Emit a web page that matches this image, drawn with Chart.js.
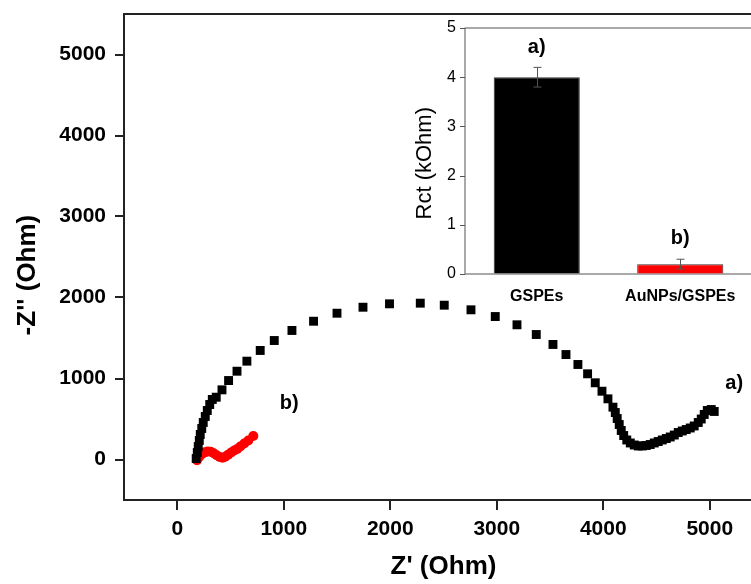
<!DOCTYPE html>
<html>
<head>
<meta charset="utf-8">
<script src="https://cdn.jsdelivr.net/npm/chart.js@4.4.1/dist/chart.umd.min.js"></script>
<style>
  html, body { margin: 0; padding: 0; background: #fff; overflow: hidden; width: 751px; height: 584px; }
  #main { position: absolute; left: 0; top: 0; }
  #inset { position: absolute; left: 400px; top: 10px; }
</style>
</head>
<body>
<canvas id="main" width="770" height="584"></canvas>
<canvas id="inset" width="360" height="300"></canvas>
<script>
const FONT = "'Liberation Sans', Arial, sans-serif";

// Nyquist data, a) GSPEs (black squares)
const gspeZre = [178,188,197,207,216,230,244,263,282,305,329,366,420,482,561,654,779,911,1077,1280,
  1500,1744,1993,2282,2507,2758,2986,3190,3371,3528,3650,3762,3853,3925,3988,4044,4091,4113,4131,4150,
  4169,4192,4221,4254,4291,4329,4366,4404,4441,4479,4516,4554,4592,4629,4667,4704,4742,4779,4817,4854,
  4892,4920,4948,4977,5014,5042];
const gspeZim = [12,86,160,235,309,383,457,531,605,679,741,769,860,975,1090,1214,1346,1469,1593,1707,
  1806,1880,1922,1930,1905,1848,1765,1663,1543,1420,1296,1173,1058,947,843,749,646,580,506,432,
  358,296,241,204,179,167,167,173,185,204,222,241,259,278,302,333,352,370,389,414,
  457,500,556,605,617,593];

// b) AuNPs/GSPEs (red circles)
const aunpZre = [185,205,230,258,286,314,342,370,398,425,450,478,506,535,563,592,629,667,714];
const aunpZim = [-10,30,65,88,98,95,78,52,30,22,35,60,86,111,130,160,198,235,290];

// inset bar chart
const barCategories = ['GSPEs', 'AuNPs/GSPEs'];
const rctValues = [4.0, 0.2];
const rctErrors = [0.2, 0.1];
const barColors = ['#000000', '#ff0000'];

function toPoints(xs, ys) {
  return xs.map((x, i) => ({ x: x, y: ys[i] }));
}

// frame + outward ticks (major and minor)
function makeAxisDecor(color, width, axes) {
  return {
    id: 'axisDecor',
    beforeDatasetsDraw(chart) {
      const ctx = chart.ctx, a = chart.chartArea;
      ctx.save();
      ctx.strokeStyle = color;
      ctx.lineWidth = width;
      ctx.strokeRect(a.left, a.top, a.right - a.left, a.bottom - a.top);
      ctx.beginPath();
      axes.forEach(ax => {
        const s = chart.scales[ax.id];
        s.ticks.forEach(t => {
          const r = t.value / ax.majorStep;
          const major = Math.abs(r - Math.round(r)) < 1e-6;
          const len = major ? ax.majorLen : ax.minorLen;
          const p = Math.round(s.getPixelForValue(t.value)) + (width % 2 ? 0.5 : 0);
          if (s.isHorizontal()) {
            ctx.moveTo(p, a.bottom); ctx.lineTo(p, a.bottom + len);
          } else {
            ctx.moveTo(a.left, p); ctx.lineTo(a.left - len, p);
          }
        });
      });
      ctx.stroke();
      ctx.restore();
    }
  };
}

// text tags like "a)" / "b)" placed in data units
function makeTags(font, items) {
  return {
    id: 'tagLabels',
    afterDatasetsDraw(chart) {
      const ctx = chart.ctx;
      ctx.save();
      ctx.font = font;
      ctx.fillStyle = '#000';
      ctx.textAlign = 'center';
      ctx.textBaseline = 'middle';
      items.forEach(it => {
        ctx.fillText(it.text, chart.scales.x.getPixelForValue(it.x), chart.scales.y.getPixelForValue(it.y));
      });
      ctx.restore();
    }
  };
}

// error bars for the inset
const errorBars = {
  id: 'errorBars',
  afterDatasetsDraw(chart) {
    const ctx = chart.ctx, y = chart.scales.y;
    const meta = chart.getDatasetMeta(0);
    ctx.save();
    ctx.strokeStyle = '#555';
    ctx.lineWidth = 1;
    meta.data.forEach((bar, i) => {
      const x = Math.round(bar.x) + 0.5;
      const top = y.getPixelForValue(rctValues[i] + rctErrors[i]);
      const bot = y.getPixelForValue(rctValues[i] - rctErrors[i]);
      ctx.beginPath();
      ctx.moveTo(x, top); ctx.lineTo(x, bot);
      ctx.moveTo(x - 4, top); ctx.lineTo(x + 4, top);
      ctx.moveTo(x - 4, bot); ctx.lineTo(x + 4, bot);
      ctx.stroke();
    });
    ctx.restore();
  }
};

const hiddenGrid = { display: true, drawOnChartArea: false, drawTicks: true, color: 'rgba(0,0,0,0)' };

new Chart(document.getElementById('main'), {
  type: 'scatter',
  data: {
    datasets: [{
      label: 'GSPEs',
      data: toPoints(gspeZre, gspeZim),
      pointStyle: 'rect',
      pointRadius: 6.3,
      pointBorderWidth: 0,
      backgroundColor: '#000',
      borderColor: '#000'
    }, {
      label: 'AuNPs/GSPEs',
      data: toPoints(aunpZre, aunpZim),
      pointStyle: 'circle',
      pointRadius: 5,
      pointBorderWidth: 0,
      backgroundColor: '#ff0000',
      borderColor: '#ff0000'
    }]
  },
  options: {
    responsive: false,
    animation: false,
    layout: { padding: { left: 0, top: 14, right: 7, bottom: 0 } },
    plugins: { legend: { display: false }, tooltip: { enabled: false } },
    scales: {
      x: {
        type: 'linear', min: -500, max: 5500,
        grid: { display: false }, border: { display: false },
        ticks: {
          stepSize: 500, autoSkip: false, maxRotation: 0, padding: 9, color: '#000',
          font: { size: 21, weight: 'bold', family: FONT },
          callback: v => (v % 1000 === 0 && v >= 0 && v <= 5000) ? String(v) : null
        },
        title: { display: true, text: "Z' (Ohm)", color: '#000', font: { size: 26, weight: 'bold', family: FONT }, padding: { top: 0, bottom: 2 } },
        afterFit: s => { s.height = 84; }
      },
      y: {
        type: 'linear', min: -500, max: 5500,
        grid: Object.assign({ tickLength: 18 }, hiddenGrid), border: { display: false },
        ticks: {
          stepSize: 500, autoSkip: false, padding: 0, color: '#000',
          font: { size: 21, weight: 'bold', family: FONT },
          callback: v => (v % 1000 === 0 && v >= 0 && v <= 5000) ? String(v) : null
        },
        title: { display: true, text: "-Z'' (Ohm)\u00a0\u00a0\u00a0\u00a0\u00a0", color: '#000', font: { size: 26, weight: 'bold', family: FONT }, padding: { top: 12, bottom: 0 } },
        afterFit: s => { s.width = 124; }
      }
    }
  },
  plugins: [
    makeAxisDecor('#222', 2, [
      { id: 'x', majorStep: 1000, majorLen: 10, minorLen: 5 },
      { id: 'y', majorStep: 1000, majorLen: 9, minorLen: 5 }
    ]),
    makeTags('bold 20px ' + FONT, [{ text: 'a)', x: 5230, y: 940 }, { text: 'b)', x: 1052, y: 690 }])
  ]
});

new Chart(document.getElementById('inset'), {
  type: 'bar',
  data: {
    labels: barCategories,
    datasets: [{
      label: 'Rct',
      data: rctValues,
      backgroundColor: barColors,
      borderColor: '#333',
      borderWidth: 1,
      barPercentage: 0.6,
      categoryPercentage: 1.0
    }]
  },
  options: {
    responsive: false,
    animation: false,
    layout: { padding: { left: 0, top: 18, right: 8, bottom: 0 } },
    plugins: { legend: { display: false }, tooltip: { enabled: false } },
    scales: {
      x: {
        grid: { display: false }, border: { display: false },
        ticks: { padding: 5, color: '#000', font: { size: 16, weight: 'bold', family: FONT } },
        afterFit: s => { s.height = 36; }
      },
      y: {
        min: 0, max: 5,
        grid: Object.assign({ tickLength: 9 }, hiddenGrid), border: { display: false },
        ticks: {
          stepSize: 0.5, autoSkip: false, padding: 0, color: '#000',
          font: { size: 16, family: FONT },
          callback: v => Number.isInteger(v) ? String(v) : null
        },
        title: { display: true, text: 'Rct (kOhm)\u00a0\u00a0\u00a0\u00a0', color: '#000', font: { size: 22, family: FONT }, padding: { top: 12, bottom: 0 } },
        afterFit: s => { s.width = 65; }
      }
    }
  },
  plugins: [
    makeAxisDecor('#555', 1, [{ id: 'y', majorStep: 1, majorLen: 5, minorLen: 3 }]),
    errorBars,
    makeTags('bold 20px ' + FONT, [{ text: 'a)', x: 0, y: 4.6 }, { text: 'b)', x: 1, y: 0.73 }])
  ]
});
</script>
</body>
</html>
